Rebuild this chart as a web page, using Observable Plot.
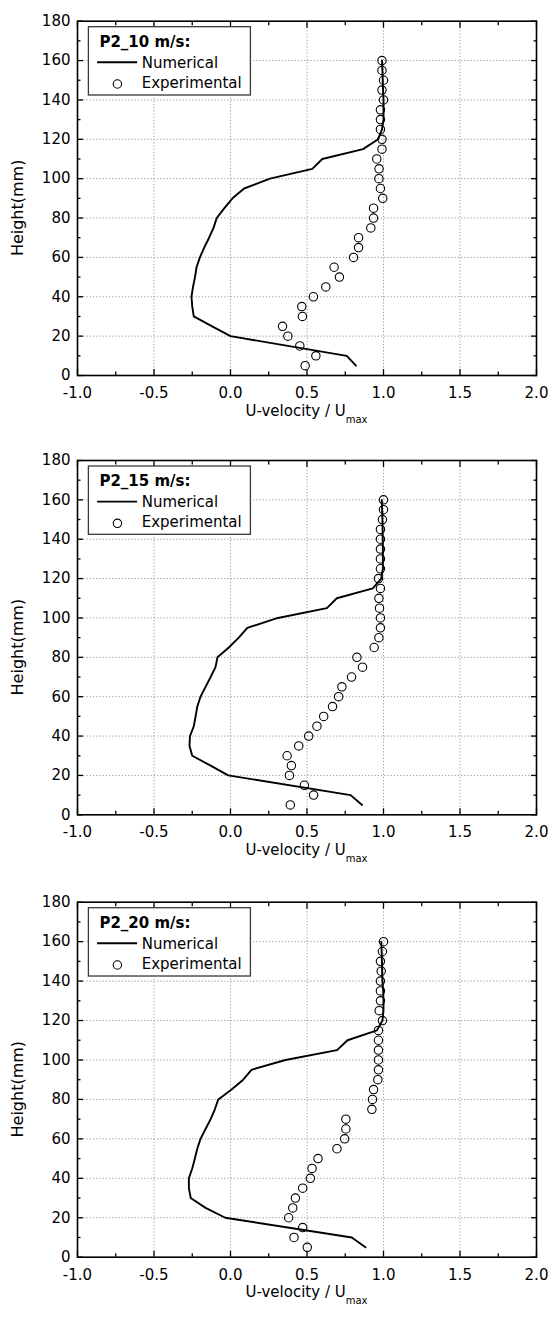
<!DOCTYPE html>
<html><head><meta charset="utf-8">
<script src="https://cdn.jsdelivr.net/npm/d3@7"></script>
<script src="https://cdn.jsdelivr.net/npm/@observablehq/plot@0.6"></script>
<style>
body{margin:0;background:#fff;}
#chart{width:551px;}
#chart svg{display:block;}
</style></head><body><div id="chart"></div>
<script>
// ---- data ----
const panelTitles = ["P2_10 m/s:", "P2_15 m/s:", "P2_20 m/s:"];
const seriesNames = ["Numerical", "Experimental"];
const xLabel = "U-velocity / U";
const xLabelSub = "max";
const yLabel = "Height(mm)";

const xTicks = [-1.0, -0.5, 0.0, 0.5, 1.0, 1.5, 2.0];
const xMinor = [-0.75, -0.25, 0.25, 0.75, 1.25, 1.75];
const xGrid = [-0.5, 0.0, 0.5, 1.0, 1.5];
const yTicks = [0, 20, 40, 60, 80, 100, 120, 140, 160, 180];
const yMinor = [10, 30, 50, 70, 90, 110, 130, 150, 170];
const yGrid = [20, 40, 60, 80, 100, 120, 140, 160];

const expHeights = [5,10,15,20,25,30,35,40,45,50,55,60,65,70,75,80,85,90,95,100,105,110,115,120,125,130,135,140,145,150,155,160];
const exp10 = [0.488,0.558,0.453,0.375,0.340,0.470,0.466,0.542,0.623,0.712,0.677,0.804,0.837,0.837,0.917,0.935,0.935,0.995,0.980,0.970,0.971,0.956,0.990,0.990,0.980,0.980,0.980,1.000,0.990,1.000,0.990,0.990];
const exp15 = [0.391,0.543,0.483,0.385,0.398,0.370,0.446,0.511,0.565,0.609,0.667,0.707,0.728,0.791,0.863,0.826,0.939,0.970,0.980,0.980,0.974,0.970,0.980,0.967,0.980,0.980,0.980,0.980,0.980,0.993,1.000,1.000];
const exp20 = [0.502,0.415,0.472,0.380,0.407,0.424,0.472,0.522,0.533,0.572,0.696,0.746,0.754,0.754,0.924,0.928,0.935,0.963,0.967,0.967,0.967,0.967,0.967,0.993,0.972,0.980,0.980,0.980,0.985,0.980,0.993,1.000];

const numHeights = [5,10,20,25,30,35,40,45,50,55,60,65,70,75,80,85,90,95,100,105,110,115,120,125,130,135,140,145,150,155,160];
const num10 = [0.820,0.760,0.000,-0.120,-0.240,-0.250,-0.255,-0.245,-0.232,-0.222,-0.200,-0.172,-0.140,-0.111,-0.090,-0.040,0.013,0.089,0.258,0.535,0.600,0.866,0.965,0.990,1.000,1.000,1.000,0.997,0.995,0.993,0.990];
const num15 = [0.860,0.785,-0.015,-0.130,-0.250,-0.268,-0.265,-0.240,-0.228,-0.217,-0.196,-0.163,-0.130,-0.098,-0.085,-0.011,0.054,0.110,0.310,0.630,0.695,0.930,0.985,0.996,0.996,0.996,0.995,0.994,0.993,0.991,0.989];
const num20 = [0.882,0.793,-0.034,-0.163,-0.260,-0.272,-0.272,-0.250,-0.233,-0.217,-0.196,-0.163,-0.130,-0.102,-0.080,0.007,0.083,0.137,0.359,0.696,0.765,0.957,0.993,1.000,1.000,0.998,0.993,0.991,0.990,0.988,0.985];

const expSeries = [exp10, exp15, exp20];
const numSeries = [num10, num15, num20];

// ---- layout (not data) ----
const layout = [
  {h: 440, mt: 20.7, mb: 65},
  {h: 440, mt: 20,   mb: 65.7},
  {h: 438, mt: 21.7, mb: 61.3}
];

const FONT = "'DejaVu Sans', sans-serif";
const chart = document.getElementById("chart");

panelTitles.forEach((title, i) => {
  const L = layout[i];
  const expData = expHeights.map((h, k) => ({h, u: expSeries[i][k]}));
  const numData = numHeights.map((h, k) => ({h, u: numSeries[i][k]}));
  const gridStyle = {stroke: "#9a9a9a", strokeOpacity: 1, strokeWidth: 1, strokeDasharray: "1.2,2"};
  const tickStyle = {fill: "none", label: null, strokeWidth: 1.3};
  const plot = Plot.plot({
    width: 551, height: L.h,
    marginLeft: 77, marginRight: 15, marginTop: L.mt, marginBottom: L.mb,
    style: `font-family:${FONT};font-size:15px;color:black;background:white;overflow:visible;`,
    x: {domain: [-1, 2]},
    y: {domain: [0, 180]},
    marks: [
      Plot.gridX(xGrid, gridStyle),
      Plot.gridY(yGrid, gridStyle),
      Plot.axisX(xTicks, {anchor: "bottom", tickSize: 0, tickPadding: 11.8, tickFormat: d => d.toFixed(1), label: null, fontSize: 15}),
      Plot.axisX(xTicks, {anchor: "bottom", tickSize: -6, ...tickStyle}),
      Plot.axisX(xMinor, {anchor: "bottom", tickSize: -3.5, ...tickStyle}),
      Plot.axisX(xTicks, {anchor: "top", tickSize: -6, ...tickStyle}),
      Plot.axisX(xMinor, {anchor: "top", tickSize: -3.5, ...tickStyle}),
      Plot.axisY(yTicks, {anchor: "left", tickSize: 0, tickPadding: 7, tickFormat: d => String(d), label: null, fontSize: 15}),
      Plot.axisY(yTicks, {anchor: "left", tickSize: -6, ...tickStyle}),
      Plot.axisY(yMinor, {anchor: "left", tickSize: -3.5, ...tickStyle}),
      Plot.axisY(yTicks, {anchor: "right", tickSize: -6, ...tickStyle}),
      Plot.axisY(yMinor, {anchor: "right", tickSize: -3.5, ...tickStyle}),
      Plot.frame({stroke: "black", strokeWidth: 1.6}),
      Plot.dot(expData, {x: "u", y: "h", r: 4.2, stroke: "black", strokeWidth: 1.1, fill: "none"}),
      Plot.line(numData, {x: "u", y: "h", stroke: "black", strokeWidth: 1.9})
    ]
  });

  const svg = d3.select(plot);
  const xs = plot.scale("x"), ys = plot.scale("y");
  const left = Math.min(...xs.range), right = Math.max(...xs.range);
  const top = Math.min(...ys.range), bottom = Math.max(...ys.range);

  // x-axis label with subscript
  const xl = svg.append("text")
    .attr("x", (left + right) / 2).attr("y", bottom + 40.5)
    .attr("text-anchor", "middle").attr("font-size", 15).attr("fill", "black")
    .text(xLabel);
  xl.append("tspan").attr("font-size", 10).attr("dy", 7).text(xLabelSub);

  // y-axis label
  svg.append("text")
    .attr("transform", `translate(17.6,${(top + bottom) / 2 + 10}) rotate(-90)`)
    .attr("text-anchor", "middle").attr("dy", "0.35em")
    .attr("font-size", 16).attr("fill", "black")
    .text(yLabel);

  // legend
  const g = svg.append("g").attr("transform", `translate(${left + 11.4},${top + 6})`)
    .attr("text-anchor", "start");
  g.append("rect").attr("width", 162).attr("height", 68.3)
    .attr("fill", "white").attr("stroke", "#3a3a3a").attr("stroke-width", 1.3);
  g.append("text").attr("x", 11).attr("y", 20).attr("font-size", 15)
    .attr("text-anchor", "start")
    .attr("font-weight", "bold").attr("fill", "black").text(title);
  g.append("line").attr("x1", 8.7).attr("x2", 48.7).attr("y1", 35.6).attr("y2", 35.6)
    .attr("stroke", "black").attr("stroke-width", 1.9);
  g.append("text").attr("x", 53.3).attr("y", 41.3).attr("font-size", 15)
    .attr("text-anchor", "start")
    .attr("fill", "black").text(seriesNames[0]);
  g.append("circle").attr("cx", 29).attr("cy", 57.3).attr("r", 4.2)
    .attr("fill", "none").attr("stroke", "black").attr("stroke-width", 1.1);
  g.append("text").attr("x", 53.3).attr("y", 61).attr("font-size", 15)
    .attr("text-anchor", "start")
    .attr("fill", "black").text(seriesNames[1]);

  chart.appendChild(plot);
});
</script>
</body></html>
